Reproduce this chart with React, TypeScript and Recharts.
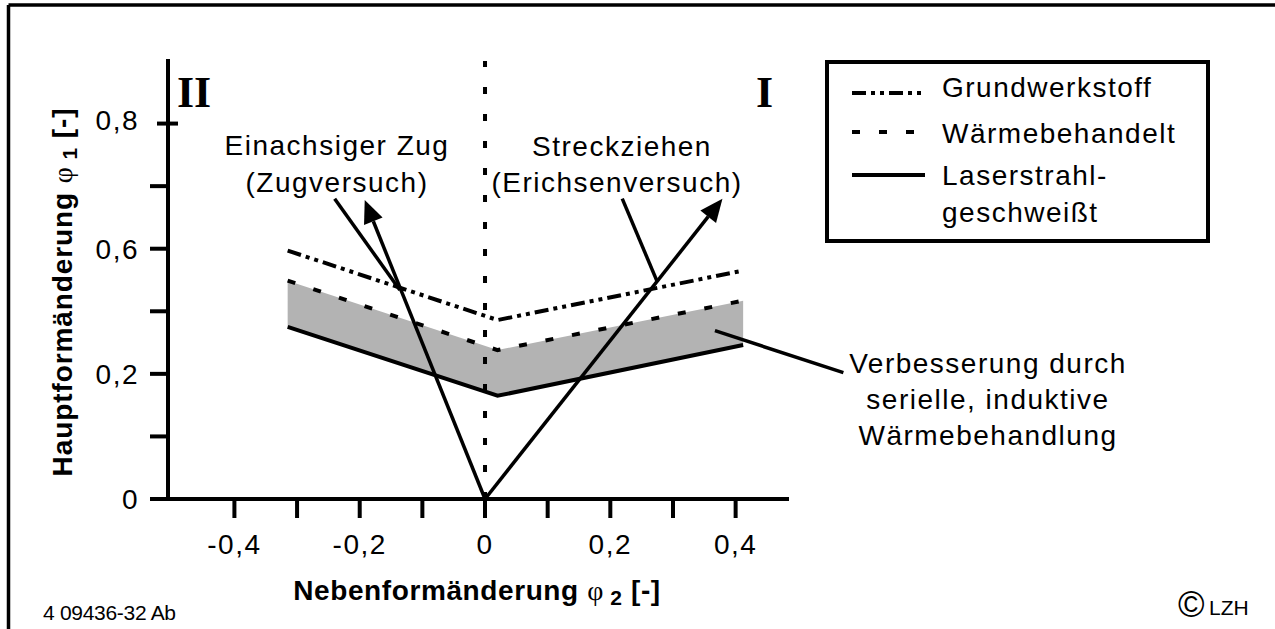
import React from "react";
import {
  ComposedChart,
  Line,
  Area,
  XAxis,
  YAxis,
  ReferenceLine,
  Legend,
} from "recharts";

// minor strain phi2 at the three break points of the forming limit curves
const minorStrain = [-0.315, 0.02, 0.412];
const baseMaterial = [0.397, 0.286, 0.365];
const heatTreated = [0.349, 0.238, 0.317];
const laserWelded = [0.275, 0.165, 0.246];

const xTickValues = [-0.4, -0.3, -0.2, -0.1, 0, 0.1, 0.2, 0.3, 0.4];
const xTickLabels = ["-0,4", "", "-0,2", "", "0", "", "0,2", "", "0,4"];
const yTickValues = [0, 0.1, 0.2, 0.3, 0.4, 0.5, 0.6];
const yTickLabels = ["0", "", "0,2", "", "0,6", "", "0,8"];

const legendNames = ["Grundwerkstoff", "Wärmebehandelt", "Laserstrahl-", "geschweißt"];

// strain paths from the origin (tip of arrow)
const tensionTip = { x: -0.192, y: 0.478 };
const stretchTip = { x: 0.379, y: 0.48 };
// leader lines from the labels
const tensionLeader = [{ x: -0.24, y: 0.48 }, { x: -0.136, y: 0.334 }];
const stretchLeader = [{ x: 0.219, y: 0.48 }, { x: 0.275, y: 0.347 }];
const bandLeader = [{ x: 0.367, y: 0.269 }, { x: 0.572, y: 0.202 }];

const X_DOMAIN: [number, number] = [-0.506, 0.482];
const Y_DOMAIN: [number, number] = [0, 0.7];

const SANS = "'Liberation Sans', Arial, sans-serif";
const SERIF = "'Liberation Serif', 'Times New Roman', serif";
const DASH_DOT_DOT = "14 5 4 5 4 5";
const DASHED = "8 19";
const Y_TICK_SIZE = 18;
const Y_TICK_MARGIN = 11;

const rows = minorStrain.map((x, i) => ({
  x,
  base: baseMaterial[i],
  heat: heatTreated[i],
  laser: laserWelded[i],
  band: [laserWelded[i], heatTreated[i]],
}));

const labelFor = (values: number[], labels: string[]) => (v: number) => {
  const i = values.findIndex((t) => Math.abs(t - v) < 1e-6);
  return i >= 0 ? labels[i] : "";
};
const yLabel = labelFor(yTickValues, yTickLabels);

const YTick = (props: any) => {
  const { x, y, payload } = props;
  const axisX = x + Y_TICK_SIZE + Y_TICK_MARGIN;
  const isTop = Math.abs(payload.value - yTickValues[yTickValues.length - 1]) < 1e-6;
  return (
    <g>
      <line
        x1={isTop ? axisX - 11 : axisX - Y_TICK_SIZE}
        x2={isTop ? axisX + 10 : axisX}
        y1={y}
        y2={y}
        stroke="#000"
        strokeWidth={4}
      />
      <text
        x={x}
        y={y}
        dy={isTop ? 6 : 10}
        textAnchor="end"
        fill="#000"
        fontSize={28}
        fontFamily={SANS}
        letterSpacing={1.5}
      >
        {yLabel(payload.value)}
      </text>
    </g>
  );
};

const ArrowShape = (props: any) => {
  const { x1, y1, x2, y2 } = props;
  const a = Math.atan2(y2 - y1, x2 - x1);
  const len = 23;
  const half = 10;
  const bx = x2 - len * Math.cos(a);
  const by = y2 - len * Math.sin(a);
  const px = -Math.sin(a) * half;
  const py = Math.cos(a) * half;
  return (
    <g>
      <line x1={x1} y1={y1} x2={bx} y2={by} stroke="#000" strokeWidth={3.5} />
      <polygon
        points={`${x2},${y2} ${bx + px},${by + py} ${bx - px},${by - py}`}
        fill="#000"
      />
    </g>
  );
};

const LegendBox = () => (
  <svg width={385} height={183} style={{ display: "block" }}>
    <rect x={2} y={2} width={381} height={179} fill="#fff" stroke="#000" strokeWidth={4} />
    <line x1={27} y1={33} x2={100} y2={33} stroke="#000" strokeWidth={4} strokeDasharray={DASH_DOT_DOT} />
    <line x1={27} y1={72} x2={100} y2={72} stroke="#000" strokeWidth={4} strokeDasharray={DASHED} />
    <line x1={27} y1={115} x2={100} y2={115} stroke="#000" strokeWidth={4} />
    <g fontFamily={SANS} fontSize={28} letterSpacing={1.5} fill="#000">
      <text x={117} y={37}>{legendNames[0]}</text>
      <text x={117} y={83}>{legendNames[1]}</text>
      <text x={117} y={125}>{legendNames[2]}</text>
      <text x={117} y={162}>{legendNames[3]}</text>
    </g>
  </svg>
);

export default function App() {
  const axisLine = { stroke: "#000", strokeWidth: 4, strokeLinecap: "square" as const };
  const tickLine = { stroke: "#000", strokeWidth: 4 };
  const tickText = { fill: "#000", fontSize: 28, fontFamily: SANS, letterSpacing: 1.5 };

  return (
    <div style={{ position: "absolute", left: 0, top: 0, width: 1275, height: 629, background: "#fff" }}>
      <ComposedChart
        width={1275}
        height={629}
        data={rows}
        margin={{ top: 61, right: 488, bottom: 80, left: 0 }}
      >
        <XAxis
          dataKey="x"
          type="number"
          domain={X_DOMAIN}
          allowDataOverflow
          ticks={xTickValues}
          interval={0}
          tickFormatter={labelFor(xTickValues, xTickLabels)}
          tickSize={19}
          tickMargin={16}
          height={50}
          axisLine={axisLine}
          tickLine={tickLine}
          tick={tickText}
        />
        <XAxis
          xAxisId="top"
          orientation="top"
          type="number"
          domain={X_DOMAIN}
          height={0}
          tick={false}
          tickLine={false}
          axisLine={axisLine}
        />
        <YAxis
          type="number"
          domain={Y_DOMAIN}
          allowDataOverflow
          ticks={yTickValues}
          interval={0}
          tickSize={Y_TICK_SIZE}
          tickMargin={Y_TICK_MARGIN}
          width={168}
          axisLine={axisLine}
          tickLine={false}
          tick={<YTick />}
        />
        <YAxis
          yAxisId="right"
          orientation="right"
          type="number"
          domain={Y_DOMAIN}
          width={0}
          tick={false}
          tickLine={false}
          axisLine={axisLine}
        />
        <Legend
          layout="horizontal"
          verticalAlign="middle"
          align="center"
          width={385}
          height={183}
          wrapperStyle={{ left: 825, top: 60, width: 385, height: 183 }}
          content={() => <LegendBox />}
        />
        <Area
          dataKey="band"
          type="linear"
          stroke="none"
          fill="#b3b3b3"
          fillOpacity={1}
          isAnimationActive={false}
          activeDot={false}
        />
        <Line
          dataKey="base"
          name="Grundwerkstoff"
          type="linear"
          stroke="#000"
          strokeWidth={4}
          strokeDasharray={DASH_DOT_DOT}
          dot={false}
          activeDot={false}
          isAnimationActive={false}
        />
        <Line
          dataKey="heat"
          name="Wärmebehandelt"
          type="linear"
          stroke="#000"
          strokeWidth={4}
          strokeDasharray={DASHED}
          dot={false}
          activeDot={false}
          isAnimationActive={false}
        />
        <Line
          dataKey="laser"
          name="Laserstrahl-geschweißt"
          type="linear"
          stroke="#000"
          strokeWidth={4}
          dot={false}
          activeDot={false}
          isAnimationActive={false}
        />
        <ReferenceLine x={0} stroke="#000" strokeWidth={4} strokeDasharray="7 20" />
        <ReferenceLine
          segment={[{ x: 0, y: 0 }, tensionTip]}
          ifOverflow="visible"
          shape={ArrowShape}
        />
        <ReferenceLine
          segment={[{ x: 0, y: 0 }, stretchTip]}
          ifOverflow="visible"
          shape={ArrowShape}
        />
        <ReferenceLine segment={tensionLeader} ifOverflow="visible" stroke="#000" strokeWidth={3.5} />
        <ReferenceLine segment={stretchLeader} ifOverflow="visible" stroke="#000" strokeWidth={3.5} />
        <ReferenceLine segment={bandLeader} ifOverflow="visible" stroke="#000" strokeWidth={3.5} />
      </ComposedChart>

      <svg
        width={1275}
        height={629}
        style={{ position: "absolute", left: 0, top: 0, pointerEvents: "none" }}
      >
        <line x1={8.5} y1={5} x2={1275} y2={5} stroke="#000" strokeWidth={3.5} />
        <line x1={8.5} y1={5} x2={8.5} y2={629} stroke="#000" strokeWidth={3.5} />

        <g fontFamily={SERIF} fontWeight="bold" fontSize={44} fill="#000">
          <text x={177} y={107}>II</text>
          <text x={773} y={107} textAnchor="end">I</text>
        </g>

        <g fontFamily={SANS} fontSize={28} letterSpacing={1.5} fill="#000" textAnchor="middle">
          <text x={337} y={155}>Einachsiger Zug</text>
          <text x={337} y={192}>(Zugversuch)</text>
          <text x={622} y={156}>Streckziehen</text>
          <text x={617} y={192}>(Erichsenversuch)</text>
          <text x={988} y={373}>Verbesserung durch</text>
          <text x={988} y={409}>serielle, induktive</text>
          <text x={988} y={445}>Wärmebehandlung</text>
        </g>

        <text x={477} y={600} textAnchor="middle" fontFamily={SANS} fontWeight="bold" fontSize={28} letterSpacing={0.6} fill="#000">
          Nebenformänderung{" "}
          <tspan fontFamily={SERIF} fontWeight="normal">φ</tspan>
          <tspan fontSize={21} dy={5}> 2</tspan>
          <tspan dy={-5}> [-]</tspan>
        </text>

        <g transform="translate(62, 292) rotate(-90)">
          <text x={0} y={10} textAnchor="middle" fontFamily={SANS} fontWeight="bold" fontSize={28} letterSpacing={0.9} fill="#000">
            Hauptformänderung{" "}
            <tspan fontFamily={SERIF} fontWeight="normal">φ</tspan>
            <tspan fontSize={21} dy={5}> 1</tspan>
            <tspan dy={-5}> [-]</tspan>
          </text>
        </g>

        <text x={43} y={620} fontFamily={SANS} fontSize={21} letterSpacing={-0.3} fill="#000">
          4 09436-32 Ab
        </text>
        <text x={1178} y={617} fontFamily={SANS} fontSize={36} fill="#000">©</text>
        <text x={1209} y={615} fontFamily={SANS} fontSize={21} fill="#000">LZH</text>
      </svg>
    </div>
  );
}
